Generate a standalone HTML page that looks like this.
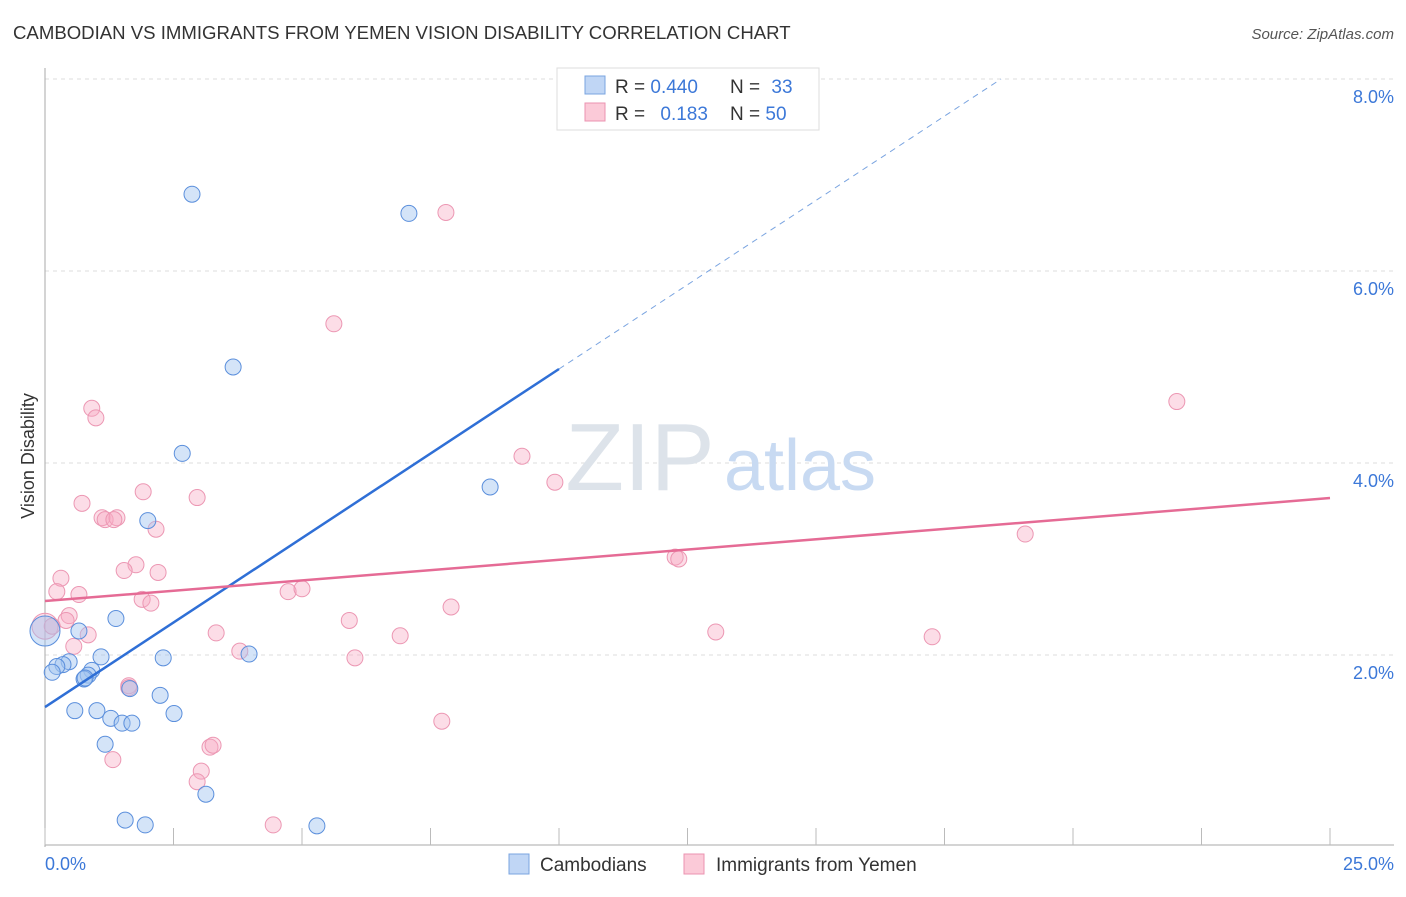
<!DOCTYPE html>
<html><head><meta charset="utf-8">
<style>
body{margin:0;background:#fff;font-family:"Liberation Sans",sans-serif;}
svg text{font-family:"Liberation Sans",sans-serif;}
</style></head>
<body>
<svg width="1406" height="892" xmlns="http://www.w3.org/2000/svg">
<text x="13" y="39" font-size="18.6" fill="#333">CAMBODIAN VS IMMIGRANTS FROM YEMEN VISION DISABILITY CORRELATION CHART</text>
<text x="1394" y="39" font-size="15" fill="#555" font-style="italic" text-anchor="end">Source: ZipAtlas.com</text>
<g id="grid"></g>
<text x="640" y="490" font-size="96" fill="#dde3ea" font-family="Liberation Serif" text-anchor="middle">ZIP</text>
<text x="800" y="490" font-size="72" fill="#c8daf2" text-anchor="middle">atlas</text>
<g id="marks"></g>
<text transform="translate(34,456) rotate(-90)" font-size="18" fill="#333" text-anchor="middle">Vision Disability</text>
<text x="45" y="870" font-size="18" fill="#3c78d8">0.0%</text>
<text x="1394" y="870" font-size="18" fill="#3c78d8" text-anchor="end">25.0%</text>
<g>
<rect x="557" y="68" width="262" height="62" fill="#fff" stroke="#ddd"/>
<rect x="585" y="76" width="20" height="18" fill="#c0d6f5" stroke="#7aa4e0"/>
<rect x="585" y="103" width="20" height="18" fill="#fbcad8" stroke="#eb93b0"/>
<text x="615" y="93" font-size="19" fill="#333">R = <tspan fill="#3c78d8">0.440</tspan></text>
<text x="730" y="93" font-size="19" fill="#333">N = <tspan fill="#3c78d8" dx="6">33</tspan></text>
<text x="615" y="120" font-size="19" fill="#333">R = <tspan fill="#3c78d8" dx="10">0.183</tspan></text>
<text x="730" y="120" font-size="19" fill="#333">N = <tspan fill="#3c78d8">50</tspan></text>
</g>
<g>
<rect x="509" y="854" width="20" height="20" fill="#c0d6f5" stroke="#7aa4e0"/>
<text x="540" y="871" font-size="19" fill="#333">Cambodians</text>
<rect x="684" y="854" width="20" height="20" fill="#fbcad8" stroke="#eb93b0"/>
<text x="716" y="871" font-size="19" fill="#333">Immigrants from Yemen</text>
</g>
</svg>
<script>
const yTicks=[2,4,6,8];
const yTickLabels=["2.0%","4.0%","6.0%","8.0%"];
const xTicks=[0,2.5,5,7.5,10,12.5,15,17.5,20,22.5,25];
const camX=[2.86,7.08,3.66,2.67,8.66,2.00,1.38,0.66,0,1.09,2.30,3.97,0.47,0.35,0.23,0.14,0.91,0.84,0.76,0.58,1.01,1.28,1.50,1.69,2.24,2.51,1.65,1.17,3.13,1.56,1.95,5.29,0.78];
const camY=[6.80,6.60,5.00,4.10,3.75,3.40,2.38,2.25,2.25,1.98,1.97,2.01,1.93,1.90,1.88,1.82,1.84,1.79,1.75,1.42,1.42,1.34,1.29,1.29,1.58,1.39,1.65,1.07,0.55,0.28,0.23,0.22,1.76];
const yemX=[7.80,5.62,22.02,0.91,0.99,9.28,9.92,1.91,2.96,0.72,1.11,1.17,1.40,1.34,2.16,1.77,1.54,2.20,0.31,0.23,0.66,12.26,12.33,19.07,1.89,2.06,4.73,5.00,7.90,5.92,0.47,0.41,0,0.14,0.84,3.33,6.91,13.05,17.26,0.56,3.79,6.03,1.63,1.63,7.72,3.21,3.27,1.32,3.04,2.96,4.44];
const yemY=[6.61,5.45,4.64,4.57,4.47,4.07,3.80,3.70,3.64,3.58,3.43,3.41,3.43,3.41,3.31,2.94,2.88,2.86,2.80,2.66,2.63,3.02,3.00,3.26,2.58,2.54,2.66,2.69,2.50,2.36,2.41,2.36,2.30,2.30,2.21,2.23,2.20,2.24,2.19,2.09,2.04,1.97,1.68,1.66,1.31,1.04,1.06,0.91,0.79,0.68,0.23];
const camTrend=[[0,1.458],[10,4.979]];
const camTrendExt=[[10,4.979],[18.6,8.0]];
const yemTrend=[[0,2.562],[25,3.635]];

const X=v=>45+v/25*1285;
const Y=v=>847-v*96;
const NS="http://www.w3.org/2000/svg";
const grid=document.getElementById('grid');
const marks=document.getElementById('marks');
function mk(tag,attrs,parent){const e=document.createElementNS(NS,tag);for(const k in attrs)e.setAttribute(k,attrs[k]);parent.appendChild(e);return e;}
yTicks.forEach((t,i)=>{
  const l=mk('line',{x1:45,x2:1394,y1:Y(t),y2:Y(t),stroke:'#ddd','stroke-dasharray':'4,4'},grid);
  
  
  const tx=mk('text',{x:1394,y:Y(t)+24,'font-size':18,fill:'#3c78d8','text-anchor':'end'},grid);
  tx.textContent=yTickLabels[i];
  
  
});
const ax=mk('line',{x1:45,x2:45,y1:68,y2:847,stroke:'#aaa'},grid);


const bx=mk('line',{x1:45,x2:1394,y1:845,y2:845,stroke:'#aaa'},grid);


xTicks.forEach(t=>{
  const l=mk('line',{x1:X(t),x2:X(t),y1:828,y2:845,stroke:'#bbb'},grid);
  
  
});
yemX.forEach((x,i)=>{
  const c=mk('circle',{cx:X(x),cy:Y(yemY[i]),r:(x===0?13:8),fill:'rgba(248,170,195,0.4)',stroke:'#ec97b3','stroke-width':1},marks);
  
  
});
camX.forEach((x,i)=>{
  const c=mk('circle',{cx:X(x),cy:Y(camY[i]),r:(x===0?15:8),fill:'rgba(160,195,240,0.45)',stroke:'#5b8fdc','stroke-width':1},marks);
  
  
});
const l1=mk('line',{x1:X(camTrend[0][0]),y1:Y(camTrend[0][1]),x2:X(camTrend[1][0]),y2:Y(camTrend[1][1]),stroke:'#2f6fd6','stroke-width':2.5},marks);


const l2=mk('line',{x1:X(camTrendExt[0][0]),y1:Y(camTrendExt[0][1]),x2:X(camTrendExt[1][0]),y2:Y(camTrendExt[1][1]),stroke:'#7aa4e0','stroke-width':1,'stroke-dasharray':'6,5'},marks);


const l3=mk('line',{x1:X(yemTrend[0][0]),y1:Y(yemTrend[0][1]),x2:X(yemTrend[1][0]),y2:Y(yemTrend[1][1]),stroke:'#e56b95','stroke-width':2.5},marks);


</script>
</body></html>
